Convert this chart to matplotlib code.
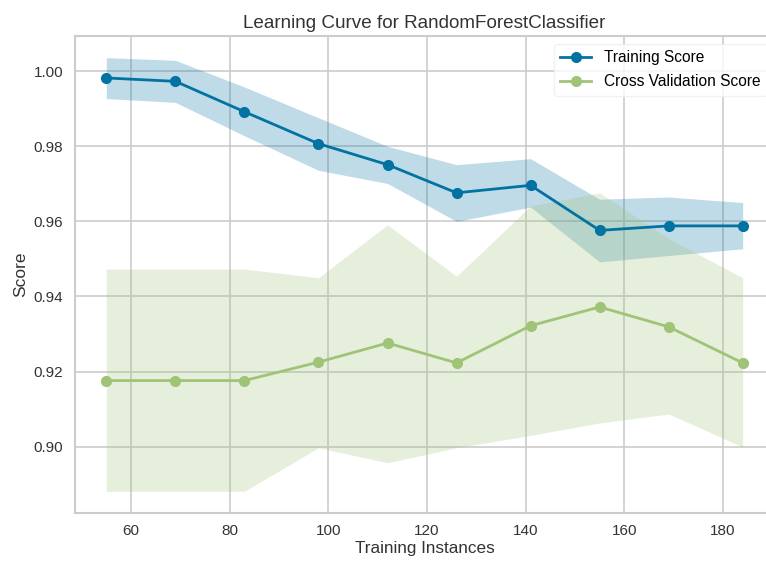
import numpy as np
import matplotlib
matplotlib.use('Agg')
import matplotlib.pyplot as plt

# training set sizes (instances)
sizes = [55, 69, 83, 98, 112, 126, 141, 155, 169, 184]

# mean scores and +/- std band
train_mean = [0.9982, 0.9973, 0.9892, 0.9807, 0.9751, 0.9676, 0.9696, 0.9576, 0.9588, 0.9588]
train_upper = [1.0036, 1.0029, 0.9958, 0.9876, 0.9800, 0.9751, 0.9767, 0.9659, 0.9665, 0.9650]
train_lower = [0.9927, 0.9917, 0.9828, 0.9736, 0.9701, 0.9600, 0.9638, 0.9492, 0.9509, 0.9527]

cv_mean = [0.9176, 0.9176, 0.9176, 0.9225, 0.9276, 0.9223, 0.9322, 0.9372, 0.9319, 0.9223]
cv_upper = [0.9473, 0.9473, 0.9473, 0.9450, 0.9591, 0.9454, 0.9641, 0.9676, 0.9554, 0.9450]
cv_lower = [0.8881, 0.8881, 0.8881, 0.8997, 0.8957, 0.8997, 0.9030, 0.9063, 0.9087, 0.8999]

blue = '#0272a2'
green = '#9fc377'

plt.rcParams['font.family'] = ['Liberation Sans', 'DejaVu Sans']

fig = plt.figure(figsize=(7.66, 5.62), dpi=100)
# the original is cropped on the right, so the axes run past the figure edge
ax = fig.add_axes([74.5 / 766, 49 / 562, 700 / 766, 477 / 562])

ax.fill_between(sizes, train_lower, train_upper, color=blue, alpha=0.25, linewidth=0)
ax.fill_between(sizes, cv_lower, cv_upper, color=green, alpha=0.25, linewidth=0)
ax.plot(sizes, train_mean, 'o-', color=blue, label='Training Score', linewidth=2, markersize=7)
ax.plot(sizes, cv_mean, 'o-', color=green, label='Cross Validation Score', linewidth=2, markersize=7)

ax.set_title('Learning Curve for RandomForestClassifier', fontsize=13.6, color='#333333')
ax.set_xlabel('Training Instances', fontsize=12.3, color='#333333', labelpad=2)
ax.set_ylabel('Score', fontsize=12.5, color='#333333')
ax.set_xticks([60, 80, 100, 120, 140, 160, 180])
ax.set_yticks([0.90, 0.92, 0.94, 0.96, 0.98, 1.00])
ax.set_yticklabels(['0.90', '0.92', '0.94', '0.96', '0.98', '1.00'])
ax.tick_params(labelsize=11, colors='#333333', length=0, pad=8)

ax.grid(True, color='#cccccc', linewidth=1.2)
ax.set_axisbelow(True)
for s in ax.spines.values():
    s.set_color('#cccccc')
    s.set_linewidth(1.5)

leg = ax.legend(loc='upper right', fontsize=11.2, frameon=True, framealpha=0.8,
                edgecolor='#eeeeee', fancybox=True, borderaxespad=0.5,
                labelspacing=0.6)

fig.savefig('out.png', dpi=100, facecolor='white')
